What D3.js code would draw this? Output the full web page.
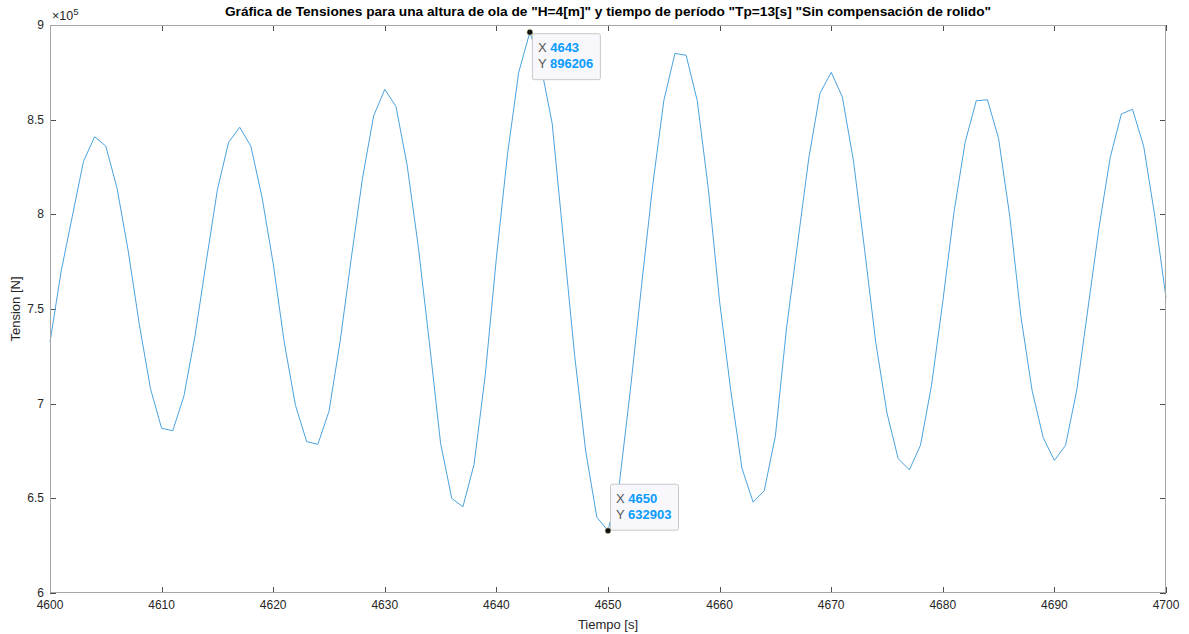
<!DOCTYPE html>
<html>
<head>
<meta charset="utf-8">
<script src="https://cdn.jsdelivr.net/npm/d3@7"></script>
<style>
  html, body { margin: 0; padding: 0; background: #fff; }
  svg { display: block; font-family: "Liberation Sans", Arial, Helvetica, sans-serif; }
</style>
</head>
<body>
<svg id="chart" width="1189" height="634"></svg>
<script>
// Time axis (seconds), one sample per second
const tiempo = d3.range(4600, 4701);

// Tension samples [N]
const tension = [
  732400, 770000, 799000, 828000, 841000, 836000, 814000, 781000, 742000, 708000,
  687000, 685700, 704000, 736000, 775000, 813000, 838000, 846000, 836000, 809000,
  774000, 732000, 699000, 680000, 678500, 696000, 733000, 777000, 819000, 852000,
  866000, 857000, 826000, 783000, 732000, 679000, 650000, 645500, 668000, 715000,
  777000, 832000, 875000, 896206, 878000, 848000, 787000, 726000, 675000, 640000,
  632903, 657000, 707000, 762000, 815000, 860000, 885000, 884000, 860000, 813000,
  754000, 707000, 666000, 648000, 654000, 683000, 740000, 785000, 830000, 864000,
  875000, 862000, 828000, 781000, 732000, 695000, 671000, 665000, 678000, 710000,
  754000, 801000, 838000, 860000, 860500, 840000, 799000, 746000, 707000, 682000,
  670000, 678000, 707000, 750000, 793000, 830000, 853000, 855500, 836000, 799000,
  756000
];

// Axis ticks
const xTicks = d3.range(4600, 4701, 10);
const yTicks = [600000, 650000, 700000, 750000, 800000, 850000, 900000];

// Data tips
const tips = [
  { x: 4643, y: 896206 },
  { x: 4650, y: 632903 }
];

const titulo = 'Gráfica de Tensiones para una altura de ola de "H=4[m]" y tiempo de período "Tp=13[s] "Sin compensación de rolido"';

const svg = d3.select("#chart");
const m = { left: 50, right: 1166, top: 25, bottom: 593 };

const x = d3.scaleLinear().domain([4600, 4700]).range([m.left, m.right]);
const y = d3.scaleLinear().domain([600000, 900000]).range([m.bottom, m.top]);

const axisColor = "#262626";
const tickColor = "#4d4d4d";

// Plot area background
svg.append("rect")
  .attr("x", m.left).attr("y", m.top)
  .attr("width", m.right - m.left).attr("height", m.bottom - m.top)
  .attr("fill", "#fff");

// Ticks (inward) on all four sides
const tickLen = 6;
const g = svg.append("g").attr("stroke", tickColor).attr("stroke-width", 1);
xTicks.forEach(t => {
  const px = Math.round(x(t)) + 0.5;
  g.append("line").attr("x1", px).attr("x2", px).attr("y1", m.bottom).attr("y2", m.bottom - tickLen);
  g.append("line").attr("x1", px).attr("x2", px).attr("y1", m.top).attr("y2", m.top + tickLen);
});
yTicks.forEach(t => {
  const py = Math.round(y(t)) + 0.5;
  g.append("line").attr("x1", m.left).attr("x2", m.left + tickLen).attr("y1", py).attr("y2", py);
  g.append("line").attr("x1", m.right).attr("x2", m.right - tickLen).attr("y1", py).attr("y2", py);
});

// Series line
const line = d3.line()
  .x((d, i) => x(tiempo[i]))
  .y(d => y(d));
svg.append("path")
  .datum(tension)
  .attr("fill", "none")
  .attr("stroke", "#4aa3df")
  .attr("stroke-width", 1)
  .attr("stroke-linejoin", "round")
  .attr("d", line);

// Box
svg.append("rect")
  .attr("x", m.left + 0.5).attr("y", m.top + 0.5)
  .attr("width", m.right - m.left - 1).attr("height", m.bottom - m.top - 1)
  .attr("fill", "none").attr("stroke", "#a6a6a6").attr("stroke-width", 1);

// Tick labels
const yFmt = v => d3.format("")(+(v / 1e5).toFixed(1));
svg.append("g").selectAll("text").data(yTicks).join("text")
  .attr("x", m.left - 6).attr("y", d => y(d) + 4)
  .attr("text-anchor", "end")
  .attr("font-size", 12).attr("fill", axisColor)
  .text(yFmt);

svg.append("g").selectAll("text").data(xTicks).join("text")
  .attr("x", d => x(d)).attr("y", m.bottom + 16)
  .attr("text-anchor", "middle")
  .attr("font-size", 12).attr("fill", axisColor)
  .text(d => d);

// Exponent label
const ex = svg.append("text").attr("x", m.left + 2).attr("y", m.top - 5)
  .attr("font-size", 12.5).attr("fill", axisColor);
ex.append("tspan").text("\u00d710");
ex.append("tspan").attr("dy", -5).attr("font-size", 9.5).text("5");

// Axis titles
svg.append("text")
  .attr("x", (m.left + m.right) / 2).attr("y", 629)
  .attr("text-anchor", "middle").attr("font-size", 13).attr("fill", axisColor)
  .text("Tiempo [s]");

svg.append("text")
  .attr("transform", `translate(20,${(m.top + m.bottom) / 2}) rotate(-90)`)
  .attr("text-anchor", "middle").attr("font-size", 13).attr("fill", axisColor)
  .text("Tension [N]");

// Title
svg.append("text")
  .attr("x", (m.left + m.right) / 2).attr("y", 16)
  .attr("text-anchor", "middle").attr("font-size", 13.7).attr("font-weight", "bold")
  .attr("fill", "#000")
  .text(titulo);

// Data tips: marker plus label box
tips.forEach((d, i) => {
  const px = x(d.x), py = y(d.y);
  const bw = 68, bh = 46;
  const bx = px + 2;
  const by = i === 0 ? py + 1 : py - bh - 1;
  const tg = svg.append("g");
  tg.append("rect")
    .attr("x", bx + 0.5).attr("y", by + 0.5).attr("width", bw).attr("height", bh)
    .attr("rx", 2).attr("fill", "#f8f8fc").attr("stroke", "#c8c8c8").attr("stroke-width", 1);
  const rows = [["X", d.x], ["Y", d.y]];
  rows.forEach((r, k) => {
    const t = tg.append("text").attr("x", bx + 6).attr("y", by + 19 + k * 16).attr("font-size", 13);
    t.append("tspan").attr("fill", "#555").text(r[0] + " ");
    t.append("tspan").attr("fill", "#0a9bff").attr("font-weight", "bold").text(r[1]);
  });
  svg.append("circle").attr("cx", px).attr("cy", py).attr("r", 3)
    .attr("fill", "#111").attr("stroke", "#e8e8b0").attr("stroke-width", 0.6);
});
</script>
</body>
</html>
